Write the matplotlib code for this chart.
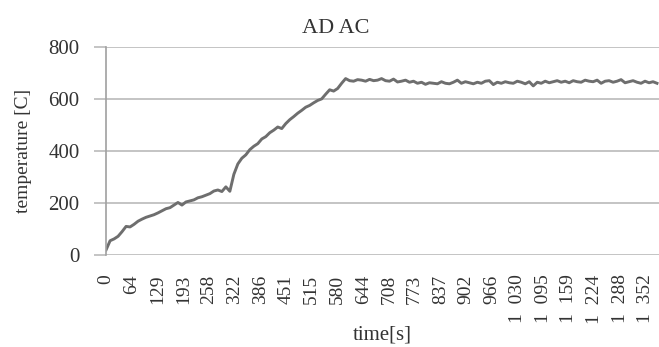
import matplotlib
matplotlib.use("Agg")
import matplotlib.pyplot as plt
import numpy as np

# temperature log, every 10 s
time_s = list(range(0, 1390, 10))
temperature = [
    20, 55, 62, 72, 90, 110, 108, 118, 130, 138,
    145, 150, 155, 162, 170, 178, 182, 192, 202, 192,
    204, 208, 212, 220, 224, 230, 236, 246, 250, 244,
    262, 245, 310, 350, 372, 385, 405, 418, 428, 446,
    455, 470, 480, 492, 486, 505, 520, 532, 545, 556,
    568, 575, 585, 594, 600, 618, 635, 630, 640, 660,
    678, 670, 668, 674, 672, 668, 675, 670, 672, 678,
    670, 668, 676, 665, 668, 672, 664, 668, 660, 664,
    656, 662, 660, 658, 666, 660, 658, 664, 672, 660,
    666, 662, 658, 664, 660, 668, 670, 655, 664, 660,
    666, 662, 660, 668, 664, 658, 666, 650, 664, 660,
    668, 662, 666, 670, 664, 668, 662, 670, 666, 664,
    672, 668, 666, 672, 660, 668, 670, 664, 668, 674,
    662, 666, 670, 664, 660, 668, 662, 666, 660,
]

tick_step = 64.4
tick_labels = ["0", "64", "129", "193", "258", "322", "386", "451", "515",
               "580", "644", "708", "773", "837", "902", "966",
               "1\u2002030", "1\u2002095", "1\u2002159", "1\u2002224",
               "1\u2002288", "1\u2002352"]
y_ticks = [0, 200, 400, 600, 800]

plt.rcParams["font.family"] = ["Liberation Serif", "DejaVu Serif"]

fig = plt.figure(figsize=(6.59, 3.47), dpi=100)
ax = fig.add_axes([0.161, 0.265, 0.839, 0.600])

ax.plot(time_s, temperature, color="#6e6e6e", linewidth=2.1)

ax.set_xlim(0, 1385)
ax.set_ylim(0, 800)
ax.set_yticks(y_ticks)
ax.set_xticks([i * tick_step for i in range(len(tick_labels))])
ax.set_xticklabels(tick_labels, rotation=90, va="top", ha="center")

ax.grid(True, axis="y", color="#c4c4c4", linewidth=1.4)
ax.set_axisbelow(True)
for side in ["top", "right", "bottom"]:
    ax.spines[side].set_visible(False)
ax.spines["left"].set_color("#a0a0a0")
ax.spines["left"].set_linewidth(1.2)

ax.tick_params(axis="y", length=9, width=1.4, color="#c4c4c4", pad=10,
               labelsize=15, labelcolor="#333333")
ax.tick_params(axis="x", length=0, pad=14, labelsize=14, labelcolor="#333333")

ax.set_ylabel("temperature [C]", fontsize=14, color="#333333", labelpad=12)
ax.set_xlabel("time[s]", fontsize=15, color="#333333", labelpad=1)
fig.text(0.51, 0.905, "AD AC", ha="center", fontsize=16, color="#333333")

fig.savefig("out.png", dpi=100)
